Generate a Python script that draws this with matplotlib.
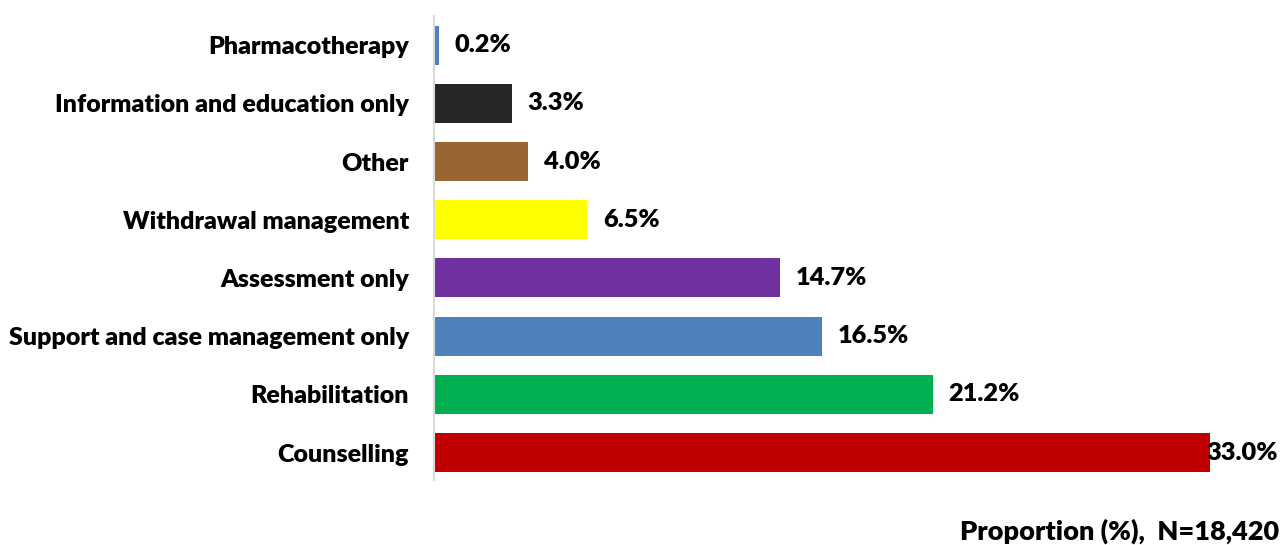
import matplotlib
matplotlib.use("Agg")
import matplotlib.pyplot as plt

categories = ["Counselling", "Rehabilitation", "Support and case management only",
              "Assessment only", "Withdrawal management", "Other",
              "Information and education only", "Pharmacotherapy"]
values = [33.0, 21.2, 16.5, 14.7, 6.5, 4.0, 3.3, 0.2]
colors = ["#C00000", "#00B050", "#4F81BD", "#7030A0", "#FFFF00", "#996633",
          "#262626", "#4F81BD"]
xlabel = "Proportion (%),  N=18,420"

plt.rcParams['font.family'] = ['Lato', 'DejaVu Sans']

W, H = 1281, 545
fig = plt.figure(figsize=(W / 100, H / 100), dpi=100)
left_px, right_px, top_px, bot_px = 434, 1257, 16, 480
ax = fig.add_axes([left_px / W, 1 - bot_px / H, (right_px - left_px) / W, (bot_px - top_px) / H])

ypos = list(range(len(categories)))
ax.barh(ypos, values, height=0.67, color=colors)
ax.set_xlim(0, 35)
ax.set_ylim(-0.47, 7.5)
ax.set_yticks(ypos)
ax.set_yticklabels(categories, fontsize=18, fontweight='heavy', color='black')
ax.tick_params(axis='y', length=0, pad=18)
ax.set_xticks([])
for s in ['top', 'right', 'bottom']:
    ax.spines[s].set_visible(False)
ax.spines['left'].set_color('#d9d9d9')
ax.spines['left'].set_linewidth(1.5)

vmax = max(values)
for y, v in zip(ypos, values):
    off = 16 if v < vmax else -4
    ax.annotate(f"{v:.1f}%", (v, y), xytext=(off * 0.72, 0), textcoords='offset points',
                ha='left', va='center', fontsize=18.3, fontweight='heavy', clip_on=False)

fig.text(1279 / W, 1 - 531 / H, xlabel, ha='right', va='center', fontsize=19.5, fontweight='heavy')

fig.savefig("out.png", dpi=100)
